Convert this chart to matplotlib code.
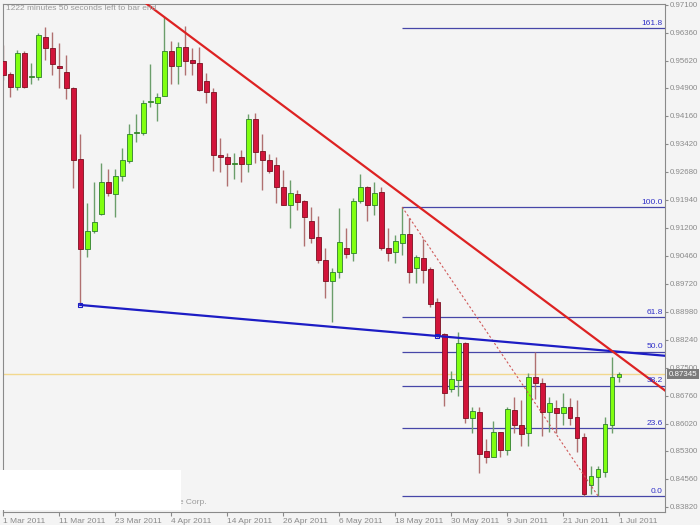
import matplotlib
matplotlib.use("Agg")
import matplotlib.pyplot as plt
from matplotlib.patches import Rectangle
from matplotlib.transforms import blended_transform_factory
import numpy as np

# daily candles, 1 Mar 2011 .. 1 Jul 2011
opens = [0.95607, 0.95263, 0.94920, 0.95818, 0.95184, 0.95184, 0.96241, 0.95950, 0.95475, 0.95316,
         0.94893, 0.93017, 0.90638, 0.91114, 0.91563, 0.92409, 0.92092, 0.92568, 0.92964, 0.93704,
         0.93704, 0.94523, 0.94497, 0.94682, 0.95871, 0.95475, 0.95977, 0.95633, 0.95554, 0.95078,
         0.94788, 0.93123, 0.93070, 0.92885, 0.93070, 0.92885, 0.94074, 0.93228, 0.92990, 0.92858,
         0.92277, 0.91801, 0.92092, 0.91907, 0.91378, 0.90956, 0.90348, 0.89793, 0.90031, 0.90665,
         0.90533, 0.91907, 0.92277, 0.91801, 0.92145, 0.90665, 0.90559, 0.90797, 0.91035, 0.90136,
         0.90401, 0.90110, 0.89238, 0.88392, 0.86939, 0.87176, 0.88154, 0.86172, 0.86331, 0.85300,
         0.85141, 0.85802, 0.85326, 0.86384, 0.85987, 0.85776, 0.87256, 0.87097, 0.86331, 0.86436,
         0.86304, 0.86463, 0.86199, 0.85670, 0.84401, 0.84613, 0.84745, 0.85987, 0.87256]
highs = [0.96030, 0.95316, 0.95898, 0.95871, 0.95554, 0.96347, 0.96505, 0.96373, 0.96083, 0.95765,
         0.94920, 0.93678, 0.91854, 0.92409, 0.92911, 0.92753, 0.92753, 0.93308, 0.93942, 0.94206,
         0.94576, 0.95528, 0.94761, 0.96770, 0.96135, 0.96109, 0.96532, 0.95950, 0.95977, 0.95290,
         0.94893, 0.93572, 0.93175, 0.93175, 0.93255, 0.94206, 0.94233, 0.93678, 0.93149, 0.93070,
         0.92726, 0.92463, 0.92198, 0.91933, 0.91748, 0.91511, 0.90665, 0.90136, 0.91722, 0.91193,
         0.91986, 0.92621, 0.92303, 0.92409, 0.92277, 0.91193, 0.91008, 0.91748, 0.91458, 0.90480,
         0.90903, 0.90163, 0.89344, 0.88419, 0.87414, 0.88445, 0.88181, 0.86463, 0.86463, 0.85617,
         0.86093, 0.85802, 0.86463, 0.86727, 0.86648, 0.87361, 0.87916, 0.87229, 0.86727, 0.86648,
         0.86833, 0.86701, 0.86648, 0.85776, 0.84904, 0.84904, 0.86199, 0.87784, 0.87388]
lows = [0.95105, 0.94655, 0.94840, 0.94893, 0.94999, 0.95105, 0.95633, 0.95237, 0.94893, 0.94603,
        0.92251, 0.89159, 0.90427, 0.91061, 0.91537, 0.92039, 0.91484, 0.92436, 0.92911, 0.93466,
        0.93651, 0.94391, 0.94021, 0.94682, 0.94999, 0.94999, 0.95237, 0.95237, 0.94814, 0.94497,
        0.92700, 0.92673, 0.92303, 0.92489, 0.92409, 0.92673, 0.92911, 0.92198, 0.92647, 0.91854,
        0.91801, 0.91193, 0.91669, 0.90718, 0.90797, 0.90268, 0.89344, 0.88709, 0.89872, 0.90401,
        0.90321, 0.91854, 0.91378, 0.91537, 0.90612, 0.90321, 0.90268, 0.90480, 0.89740, 0.89740,
        0.89740, 0.89106, 0.88313, 0.86489, 0.86859, 0.86754, 0.86040, 0.85776, 0.84719, 0.84983,
        0.85141, 0.85141, 0.85194, 0.85776, 0.85432, 0.85432, 0.86674, 0.85696, 0.85802, 0.85776,
        0.85987, 0.85987, 0.85274, 0.84111, 0.84164, 0.84111, 0.84613, 0.85776, 0.87124]
closes = [0.95237, 0.94920, 0.95818, 0.94920, 0.95210, 0.96294, 0.95950, 0.95528, 0.95422, 0.94893,
          0.92990, 0.90638, 0.91114, 0.91352, 0.92409, 0.92118, 0.92568, 0.92990, 0.93678, 0.93730,
          0.94497, 0.94550, 0.94655, 0.95871, 0.95475, 0.95977, 0.95607, 0.95554, 0.94840, 0.94788,
          0.93123, 0.93070, 0.92885, 0.92911, 0.92885, 0.94074, 0.93202, 0.92990, 0.92700, 0.92277,
          0.91801, 0.92118, 0.91881, 0.91484, 0.90929, 0.90348, 0.89793, 0.90031, 0.90823, 0.90506,
          0.91907, 0.92277, 0.91801, 0.92118, 0.90665, 0.90533, 0.90850, 0.91035, 0.90031, 0.90427,
          0.90083, 0.89185, 0.88366, 0.86833, 0.87203, 0.88154, 0.86172, 0.86357, 0.85221, 0.85141,
          0.85802, 0.85326, 0.86410, 0.85987, 0.85749, 0.87256, 0.87097, 0.86331, 0.86569, 0.86304,
          0.86463, 0.86172, 0.85644, 0.84164, 0.84639, 0.84824, 0.86014, 0.87256, 0.87345]

date_bars = [0, 8, 16, 24, 32, 40, 48, 56, 64, 72, 80, 88]
date_labels = ["1 Mar 2011", "11 Mar 2011", "23 Mar 2011", "4 Apr 2011", "14 Apr 2011",
               "26 Apr 2011", "6 May 2011", "18 May 2011", "30 May 2011", "9 Jun 2011",
               "21 Jun 2011", "1 Jul 2011"]

price_ticks = [0.97100, 0.96360, 0.95620, 0.94900, 0.94160, 0.93420, 0.92680, 0.91940, 0.91200,
               0.90460, 0.89720, 0.88980, 0.88240, 0.87500, 0.86760, 0.86020, 0.85300, 0.84560,
               0.83820]
current_price = 0.87345

fib_ratios = [0.0, 23.6, 38.2, 50.0, 61.8, 100.0, 161.8]
fib_high = 0.91748
fib_low = 0.84111
fib_bars = [57, 85]

red_trend_bars = [23, 87]
red_trend_prices = [0.96770, 0.87943]
blue_trend_bars = [11, 62]
blue_trend_prices = [0.89159, 0.88340]

status_text = "1222 minutes 50 seconds left to bar end"

BG = "#f4f4f4"
AXIS_GRAY = "#8a8a8a"


def draw_candles(ax, o, h, l, c):
    x = np.arange(len(o))
    up = c >= o
    dn = ~up
    ax.vlines(x[up], l[up], h[up], color="#6b9e6b", lw=1.0, zorder=2)
    ax.vlines(x[dn], l[dn], h[dn], color="#b07070", lw=1.0, zorder=2)
    min_h = 0.00018
    body = np.abs(c - o)
    mid = (o + c) / 2
    height = np.maximum(body, min_h)
    bottom = mid - height / 2
    ax.bar(x[up], height[up], bottom=bottom[up], width=0.7, color="#80ff10",
           edgecolor="#2e7d2e", lw=0.6, zorder=3)
    ax.bar(x[dn], height[dn], bottom=bottom[dn], width=0.7, color="#d2143a",
           edgecolor="#7a1020", lw=0.6, zorder=3)


def ray(bars, prices, x0, x1):
    slope = (prices[1] - prices[0]) / (bars[1] - bars[0])
    xs = np.array([x0, x1])
    return xs, prices[0] + slope * (xs - bars[0])


def main() -> None:
    plt.rcParams["font.family"] = ["Liberation Sans", "DejaVu Sans"]
    fig = plt.figure(figsize=(7, 5.25), dpi=100, facecolor=BG)
    ax = fig.add_axes([3 / 700, 13.5 / 525, 662 / 700, 508 / 525])
    ax.set_facecolor(BG)

    o, h, l, c = map(np.array, (opens, highs, lows, closes))
    xmax = 662 / 7
    ax.set_xlim(-0.05, xmax)
    ax.set_ylim(0.83701, 0.97127)

    # fibonacci retracement
    rng = fib_high - fib_low
    for r in fib_ratios:
        lvl = fib_low + r / 100 * rng
        ax.hlines(lvl, fib_bars[0], xmax, color="#4646a8", lw=0.9, zorder=1)
        ax.text(xmax - 0.3, lvl + 0.0003, f"{r:.1f}", ha="right", va="bottom",
                fontsize=6, color="#3030c8", zorder=5)
    ax.plot(fib_bars, [fib_high, fib_low], color="#d05a5a", lw=0.8,
            dashes=(2, 2), zorder=4)

    # current price line
    ax.axhline(current_price, color="#f2d88e", lw=1.0, zorder=1)

    draw_candles(ax, o, h, l, c)

    # trend lines
    xs, ys = ray(blue_trend_bars, blue_trend_prices, blue_trend_bars[0], xmax + 1)
    ax.plot(xs, ys, color="#1c1cc4", lw=1.6, zorder=4)
    ax.plot(blue_trend_bars, blue_trend_prices, ls="none", marker="s", ms=3,
            mfc="none", mec="#1c1cc4", mew=0.8, zorder=5)
    xs, ys = ray(red_trend_bars, red_trend_prices, 0, xmax + 1)
    ax.plot(xs, ys, color="#dd2222", lw=1.6, zorder=4)

    # axes cosmetics
    for s in ax.spines.values():
        s.set_color(AXIS_GRAY)
        s.set_linewidth(0.8)
    ax.yaxis.tick_right()
    ax.set_yticks(price_ticks)
    ax.set_yticklabels([f"{p:.5f}" for p in price_ticks])
    ax.set_xticks(date_bars)
    ax.set_xticklabels(date_labels)
    for lab in ax.get_xticklabels():
        lab.set_ha("left")
    ax.tick_params(axis="x", length=3, width=0.8, color=AXIS_GRAY,
                   labelcolor="#8a8a8a", labelsize=6, pad=2)
    ax.tick_params(axis="y", length=2.5, width=0.8, color=AXIS_GRAY,
                   labelcolor="#8a8a8a", labelsize=5.7, pad=1.2)

    tr = blended_transform_factory(ax.transAxes, ax.transData)
    ax.text(1.005, current_price - 0.0002, f"{current_price:.5f}", transform=tr, ha="left",
            va="center", fontsize=5.7, color="white", clip_on=False, zorder=10,
            bbox=dict(boxstyle="square,pad=0.2", fc="#7b7b7b", ec="none"))

    fig.text(6 / 700, 1 - 8 / 525, status_text, fontsize=6, color="#9a9a9a",
             ha="left", va="center")
    fig.text(176 / 700, 1 - 503 / 525, "re Corp.", fontsize=6, color="#9a9a9a",
             ha="left", va="center", zorder=3)
    fig.add_artist(Rectangle((0, 15 / 525), 181 / 700, 40 / 525,
                             transform=fig.transFigure, fc="white", ec="none",
                             zorder=4))

    fig.savefig("out.png", dpi=100, facecolor=BG)


if __name__ == "__main__":
    main()
